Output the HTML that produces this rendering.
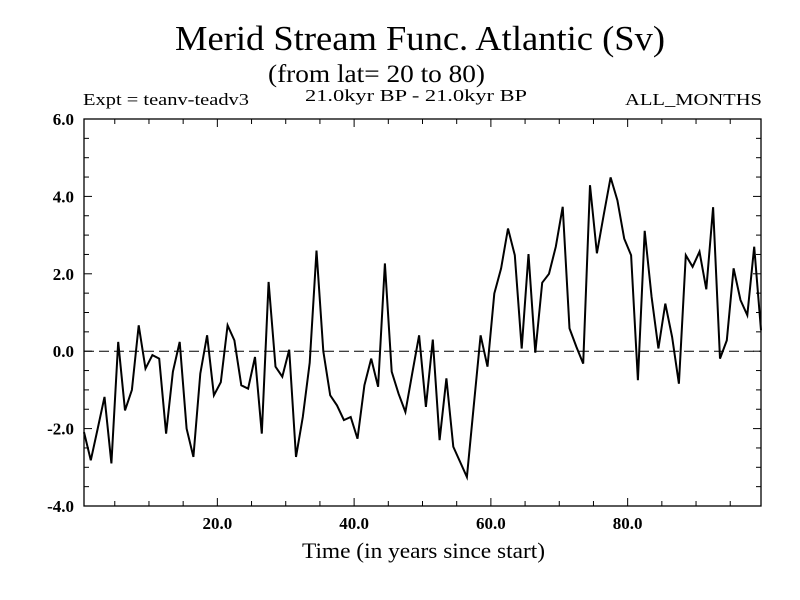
<!DOCTYPE html>
<html><head><meta charset="utf-8"><style>
body{margin:0;background:#fff}
svg{display:block}
text{font-family:"Liberation Serif",serif;fill:#000}
</style></head><body>
<svg id="c" width="800" height="600" xmlns="http://www.w3.org/2000/svg">
<text x="175" y="50" font-size="35" textLength="490" lengthAdjust="spacingAndGlyphs">Merid Stream Func. Atlantic (Sv)</text>
<text x="268" y="82" font-size="25" textLength="217" lengthAdjust="spacingAndGlyphs">(from lat= 20 to 80)</text>
<text x="83" y="105" font-size="17" textLength="166" lengthAdjust="spacingAndGlyphs">Expt = teanv-teadv3</text>
<text x="305" y="101" font-size="17" textLength="222" lengthAdjust="spacingAndGlyphs">21.0kyr BP - 21.0kyr BP</text>
<text x="625" y="105" font-size="17" textLength="137" lengthAdjust="spacingAndGlyphs">ALL_MONTHS</text>
<text x="302" y="558" font-size="22" textLength="243" lengthAdjust="spacingAndGlyphs">Time (in years since start)</text>
<g id="axes"></g>
</svg>
<script>
const values=[-2.09,-2.82,-2.0,-1.18,-2.9,0.24,-1.53,-1.0,0.67,-0.45,
-0.1,-0.19,-2.13,-0.53,0.24,-2.0,-2.73,-0.58,0.41,-1.14,
-0.8,0.67,0.28,-0.88,-0.97,-0.15,-2.13,1.79,-0.4,-0.66,
0.04,-2.73,-1.7,-0.3,2.6,0.0,-1.14,-1.4,-1.78,-1.7,
-2.26,-0.88,-0.19,-0.92,2.27,-0.53,-1.1,-1.57,-0.58,0.41,
-1.44,0.3,-2.3,-0.7,-2.47,-2.86,-3.25,-1.4,0.41,-0.4,
1.49,2.14,3.17,2.48,0.07,2.51,-0.04,1.77,2.0,2.7,
3.73,0.59,0.11,-0.32,4.29,2.53,3.52,4.49,3.9,2.91,
2.48,-0.75,3.11,1.4,0.07,1.23,0.37,-0.84,2.48,2.18,
2.57,1.6,3.72,-0.19,0.28,2.14,1.32,0.93,2.7,0.54];
const yTicks=[-4,-2,0,2,4,6];
const yTickLabels=["-4.0","-2.0","0.0","2.0","4.0","6.0"];
const xTicks=[20,40,60,80];
const xTickLabels=["20.0","40.0","60.0","80.0"];
const L=84,R=761,T=119,B=506,X0=0.5,X1=99.5,Y0=-4,Y1=6;
const sx=v=>L+(v-X0)/(X1-X0)*(R-L);
const sy=v=>B-(v-Y0)/(Y1-Y0)*(B-T);
const NS="http://www.w3.org/2000/svg";
const g=document.getElementById('axes');
function mk(t,a){const e=document.createElementNS(NS,t);for(const k in a)e.setAttribute(k,a[k]);g.appendChild(e);return e;}
const frame=mk('rect',{x:L,y:T,width:R-L,height:B-T,fill:'none',stroke:'#000','stroke-width':1.3});


for(let v=-4;v<=6.001;v+=0.5){const y=sy(v),len=Math.abs(v-Math.round(v/2)*2)<1e-6?8:5;
 const t1=mk('line',{x1:L,x2:L+len,y1:y,y2:y,stroke:'#000'});
 
 
 const t2=mk('line',{x1:R,x2:R-len,y1:y,y2:y,stroke:'#000'});
 
 }
for(let v=5;v<=95;v+=5){const x=sx(v),len=v%20==0?8:5;
 const t1=mk('line',{x1:x,x2:x,y1:B,y2:B-len,stroke:'#000'});
 
 
 const t2=mk('line',{x1:x,x2:x,y1:T,y2:T+len,stroke:'#000'});
 
 }
yTicks.forEach((v,i)=>{const t=mk('text',{x:74,y:sy(v)+6,'font-size':17,'font-weight':'bold','text-anchor':'end'});t.textContent=yTickLabels[i];
 
 });
xTicks.forEach((v,i)=>{const t=mk('text',{x:sx(v),y:529,'font-size':17,'font-weight':'bold','text-anchor':'middle'});t.textContent=xTickLabels[i];
 
 });
const zl=mk('line',{x1:L,x2:R,y1:sy(0),y2:sy(0),stroke:'#000','stroke-dasharray':'10,5'});


const pts=values.map((v,i)=>sx(i+0.5).toFixed(1)+','+sy(v).toFixed(1)).join(' ');
const line=mk('polyline',{points:pts,fill:'none',stroke:'#000','stroke-width':2,'stroke-linejoin':'miter'});


</script>
</body></html>
